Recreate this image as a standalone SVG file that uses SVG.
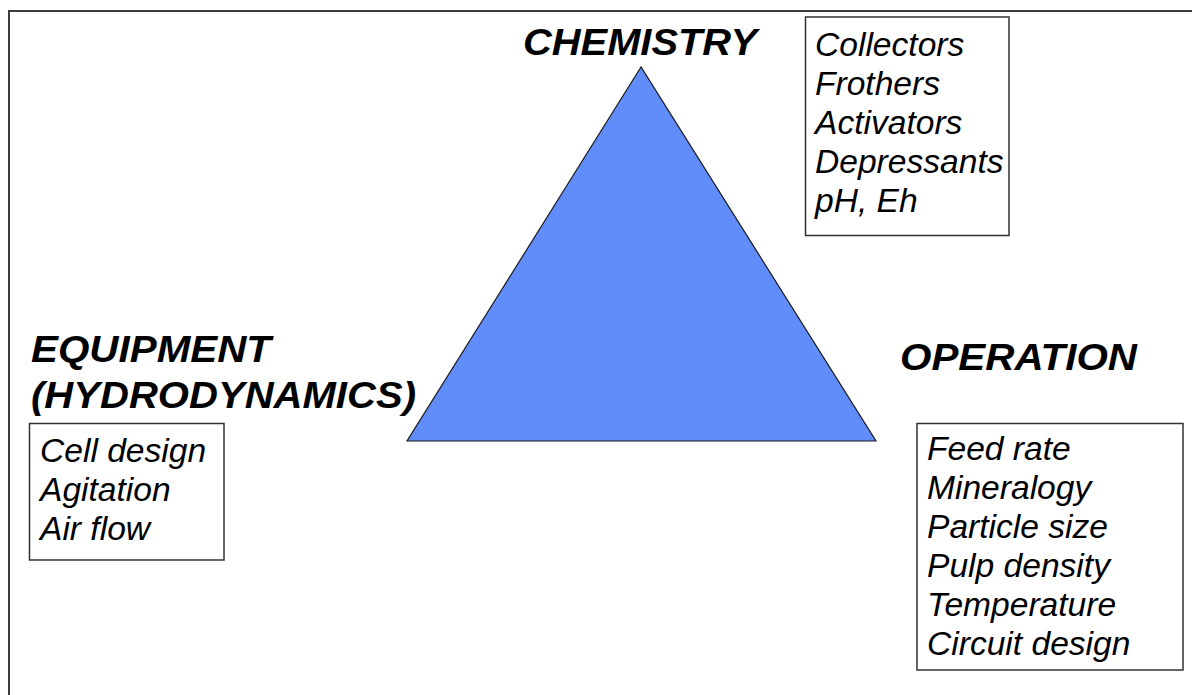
<svg xmlns="http://www.w3.org/2000/svg" width="1192" height="695" viewBox="0 0 1192 695">
  <style>
    .frame { stroke: #3c3c3c; stroke-width: 2; fill: none; }
    .box { fill: #ffffff; stroke: #333333; stroke-width: 1.5; }
    .head { font-family: "Liberation Sans", Arial, sans-serif; font-weight: bold; font-style: italic; font-size: 36px; fill: #000000; }
    .item { font-family: "Liberation Sans", Arial, sans-serif; font-style: italic; font-size: 33.6px; fill: #000000; }
  </style>

  <rect width="1192" height="695" fill="#ffffff"/>

  <!-- page frame: top and left rules -->
  <g id="frame">
    <line class="frame" x1="8" y1="11" x2="1192" y2="11"/>
    <line class="frame" x1="9" y1="10" x2="9" y2="695"/>
  </g>

  <!-- central triangle -->
  <g id="triangle">
    <polygon points="641,67 407,441 876,441" fill="#608DF9" stroke="#1a1a1a" stroke-width="1.2" stroke-linejoin="miter"/>
  </g>

  <!-- chemistry vertex -->
  <g id="chemistry">
    <text class="head" x="523" y="55" textLength="234" lengthAdjust="spacingAndGlyphs">CHEMISTRY</text>
    <rect class="box" x="805.5" y="17" width="203.5" height="218.5"/>
    <text class="item" x="815" y="56">Collectors</text>
    <text class="item" x="815" y="95">Frothers</text>
    <text class="item" x="815" y="134">Activators</text>
    <text class="item" x="815" y="173">Depressants</text>
    <text class="item" x="815" y="212">pH, Eh</text>
  </g>

  <!-- equipment vertex -->
  <g id="equipment">
    <text class="head" x="31" y="362" textLength="240" lengthAdjust="spacingAndGlyphs">EQUIPMENT</text>
    <text class="head" x="31" y="408" textLength="385" lengthAdjust="spacingAndGlyphs">(HYDRODYNAMICS)</text>
    <rect class="box" x="29.5" y="423.5" width="194.5" height="136.5"/>
    <text class="item" x="40" y="462">Cell design</text>
    <text class="item" x="40" y="501">Agitation</text>
    <text class="item" x="40" y="540">Air flow</text>
  </g>

  <!-- operation vertex -->
  <g id="operation">
    <text class="head" x="900" y="370" textLength="237" lengthAdjust="spacingAndGlyphs">OPERATION</text>
    <rect class="box" x="917" y="423.5" width="266" height="246.5"/>
    <text class="item" x="927" y="460">Feed rate</text>
    <text class="item" x="927" y="499">Mineralogy</text>
    <text class="item" x="927" y="538">Particle size</text>
    <text class="item" x="927" y="577">Pulp density</text>
    <text class="item" x="927" y="616">Temperature</text>
    <text class="item" x="927" y="655">Circuit design</text>
  </g>
</svg>
